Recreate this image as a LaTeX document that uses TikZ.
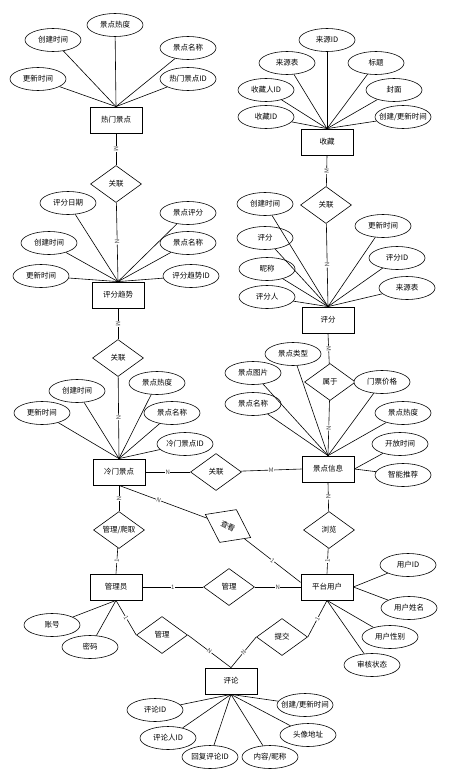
\documentclass[tikz,border=0pt]{standalone}
\usepackage{fontspec}
\newfontfamily\zhfont{Noto Sans CJK SC}
\usetikzlibrary{shapes.geometric}

\begin{document}
\begin{tikzpicture}[%
    x=1pt, y=-1pt,      % pixel grid, y down
    line width=0.6pt,
    every node/.style={font=\zhfont\fontsize{7.5}{9}\selectfont},
    entity/.style={draw, rectangle, line width=0.8pt, minimum width=52pt, minimum height=26pt, fill=white},
    attr/.style={draw, ellipse, minimum width=56pt, minimum height=23pt, inner xsep=-8pt, inner ysep=0pt, fill=white},
    rel/.style={draw, diamond, aspect=1.4, minimum width=51pt, minimum height=37pt, inner sep=0pt, fill=white},
    card/.style={font=\zhfont\fontsize{6}{6}\selectfont, text=black!75, fill=white, inner sep=0.4pt, sloped}
]
    \useasboundingbox (0,0) rectangle (453,776);

    % ==========================================
    % 1. Entities
    % ==========================================
    \node[entity] (hot)   at (116,120) {热门景点};
    \node[entity] (trend) at (118,295) {评分趋势};
    \node[entity] (cold)  at (119,472) {冷门景点};
    \node[entity] (fav)   at (327,142) {收藏};
    \node[entity] (score) at (328,320) {评分};
    \node[entity] (info)  at (328,469) {景点信息};
    \node[entity] (admin) at (116,587) {管理员};
    \node[entity] (user)  at (327,587) {平台用户};
    \node[entity] (cmt)   at (231,681) {评论};

    % ==========================================
    % 2. Relations
    % ==========================================
    \node[rel] (r1)  at (116,184) {关联};
    \node[rel] (r2)  at (118,358) {关联};
    \node[rel] (r3)  at (216,472) {关联};
    \node[rel] (r4)  at (326,205) {关联};
    \node[rel] (sh)  at (330,382) {属于};
    \node[rel] (gp)  at (119,530) {管理/爬取};
    \node[rel] (ll)  at (329,530) {浏览};
    \node[rel] (mg)  at (229,587) {管理};
    \node[rel, rotate=-27] (ck) at (228,526) {查看};
    \node[rel] (mg2) at (162,635) {管理};
    \node[rel] (tj)  at (282,637) {提交};

    % ==========================================
    % 3. Attributes
    % ==========================================
    % --- 热门景点 ---
    \node[attr] (hotA) at (38,79)  {更新时间};
    \node[attr] (hotB) at (53,40)  {创建时间};
    \node[attr] (hotC) at (115,25) {景点热度};
    \node[attr] (hotD) at (188,48) {景点名称};
    \node[attr] (hotE) at (188,79) {热门景点ID};
    % --- 评分趋势 ---
    \node[attr] (trA) at (68,203)  {评分日期};
    \node[attr] (trB) at (188,213) {景点评分};
    \node[attr] (trC) at (49,243)  {创建时间};
    \node[attr] (trD) at (188,243) {景点名称};
    \node[attr] (trE) at (41,276)  {更新时间};
    \node[attr] (trF) at (191,276) {评分趋势ID};
    % --- 冷门景点 ---
    \node[attr] (coA) at (42,413)  {更新时间};
    \node[attr] (coB) at (77,391)  {创建时间};
    \node[attr] (coC) at (157,383) {景点热度};
    \node[attr] (coD) at (172,413) {景点名称};
    \node[attr] (coE) at (185,444) {冷门景点ID};
    % --- 收藏 ---
    \node[attr] (faA) at (327,40)  {来源ID};
    \node[attr] (faB) at (287,63)  {来源表};
    \node[attr] (faC) at (376,63)  {标题};
    \node[attr] (faD) at (266,90)  {收藏人ID};
    \node[attr] (faE) at (394,90)  {封面};
    \node[attr] (faF) at (266,117) {收藏ID};
    \node[attr] (faG) at (403,117) {创建/更新时间};
    % --- 评分 ---
    \node[attr] (scA) at (265,204) {创建时间};
    \node[attr] (scB) at (265,238) {评分};
    \node[attr] (scC) at (383,226) {更新时间};
    \node[attr] (scD) at (267,269) {昵称};
    \node[attr] (scE) at (397,258) {评分ID};
    \node[attr] (scF) at (267,297) {评分人};
    \node[attr] (scG) at (407,288) {来源表};
    % --- 景点信息 ---
    \node[attr] (inA) at (293,354) {景点类型};
    \node[attr] (inB) at (253,373) {景点图片};
    \node[attr] (inC) at (382,382) {门票价格};
    \node[attr] (inD) at (253,404) {景点名称};
    \node[attr] (inE) at (403,413) {景点热度};
    \node[attr] (inF) at (400,444) {开放时间};
    \node[attr] (inG) at (403,475) {智能推荐};
    % --- 管理员 ---
    \node[attr] (adA) at (52,625) {账号};
    \node[attr] (adB) at (90,647) {密码};
    % --- 平台用户 ---
    \node[attr] (usA) at (408,565) {用户ID};
    \node[attr] (usB) at (409,608) {用户姓名};
    \node[attr] (usC) at (390,637) {用户性别};
    \node[attr] (usD) at (372,665) {审核状态};
    % --- 评论 ---
    \node[attr] (cmA) at (155,710) {评论ID};
    \node[attr] (cmB) at (168,738) {评论人ID};
    \node[attr] (cmC) at (210,757) {回复评论ID};
    \node[attr] (cmD) at (270,757) {内容/昵称};
    \node[attr] (cmE) at (308,735) {头像地址};
    \node[attr] (cmF) at (305,705) {创建/更新时间};

    % ==========================================
    % 4. Attribute lines
    % ==========================================
    \path
        (hotA) edge (hot.north) (hotB) edge (hot.north) (hotC) edge (hot.north)
        (hotD) edge (hot.north) (hotE) edge (hot.north)
        (trA) edge (trend.north) (trB) edge (trend.north) (trC) edge (trend.north)
        (trD) edge (trend.north) (trE) edge (trend.north) (trF) edge (trend.north)
        (coA) edge (cold.north) (coB) edge (cold.north) (coC) edge (cold.north)
        (coD) edge (cold.north) (coE) edge (cold.north)
        (faA) edge (fav.north) (faB) edge (fav.north) (faC) edge (fav.north)
        (faD) edge (fav.north) (faE) edge (fav.north) (faF) edge (fav.north)
        (faG) edge (fav.north)
        (scA) edge (score.north) (scB) edge (score.north) (scC) edge (score.north)
        (scD) edge (score.north) (scE) edge (score.north) (scF) edge (score.north)
        (scG) edge (score.north)
        (inA) edge (info.north) (inB) edge (info.north) (inC) edge (info.north)
        (inD) edge (info.north) (inE) edge (info.north)
        (inF) edge (info.east) (inG) edge (info.east)
        (adA) edge (admin.south) (adB) edge (admin.south)
        (usA) edge (user.east) (usB) edge (user.east)
        (usC) edge (user.south) (usD) edge (user.south)
        (cmA) edge (cmt.south) (cmB) edge (cmt.south) (cmC) edge (cmt.south)
        (cmD) edge (cmt.south) (cmE) edge (cmt.south) (cmF) edge (cmt.south);

    % ==========================================
    % 5. Relation lines with cardinalities
    % ==========================================
    \path
        (hot.south)   edge node[card] {M} (r1)
        (r1)          edge node[card] {N} (trend.north)
        (trend.south) edge node[card] {M} (r2)
        (r2)          edge node[card] {N} (cold.north)
        (fav.south)   edge node[card] {M} (r4)
        (r4)          edge node[card] {N} (score.north)
        (score.south) edge node[card] {M} (sh)
        (sh)          edge node[card] {N} (info.north)
        (cold.east)   edge node[card] {N} (r3)
        (r3)          edge node[card] {M} (info.west)
        (cold.south)  edge node[card] {N} (gp)
        (gp)          edge node[card] {1} (admin.north)
        (info.south)  edge node[card] {N} (ll)
        (ll)          edge node[card] {1} (user.north)
        (admin.east)  edge node[card] {1} (mg)
        (mg)          edge node[card] {N} (user.west)
        (cold.south)  edge node[card, pos=0.45] {N} (ck)
        (ck)          edge node[card] {1} (user.170)
        (admin.south) edge node[card] {1} (mg2.west)
        (mg2.east)    edge node[card] {N} (cmt.north)
        (user.south)  edge node[card] {1} (tj.east)
        (tj.west)     edge node[card] {N} (cmt.north);

\end{tikzpicture}
\end{document}
